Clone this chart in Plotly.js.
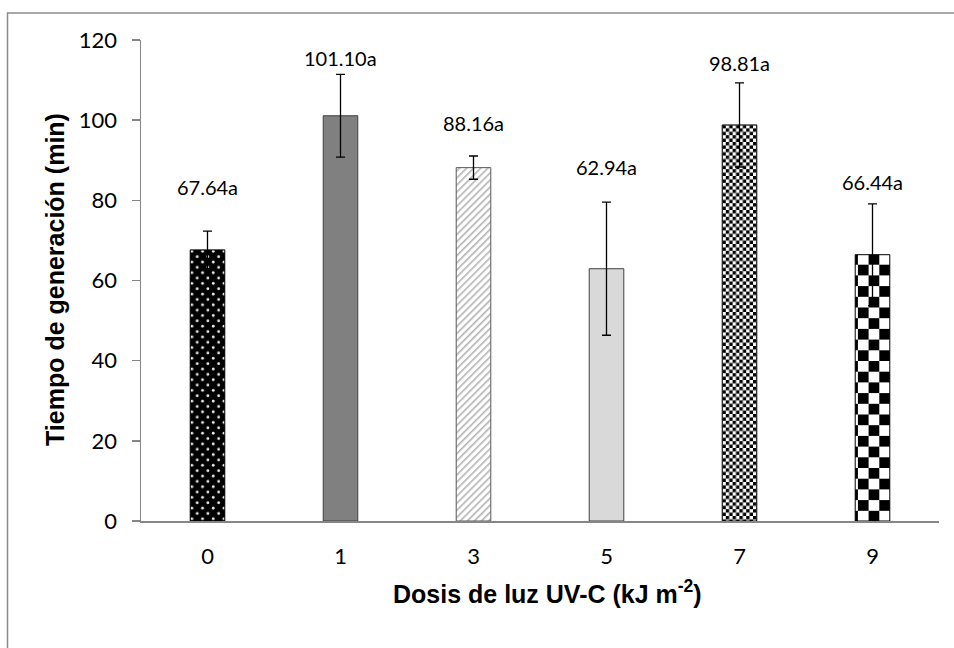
<!DOCTYPE html>
<html>
<head>
<meta charset="utf-8">
<script src="https://cdn.plot.ly/plotly-3.0.1.min.js"></script>
<style>
  html, body { margin: 0; padding: 0; background: #ffffff; }
  #chart { width: 954px; height: 648px; }
</style>
</head>
<body>
<div id="chart"></div>
<script>
// ---- data ----
const categories = ['0', '1', '3', '5', '7', '9'];
const values = [67.64, 101.10, 88.16, 62.94, 98.81, 66.44];
const errors = [4.7, 10.3, 2.9, 16.6, 10.5, 12.7];
const labels = ['67.64a', '101.10a', '88.16a', '62.94a', '98.81a', '66.44a'];
const labelY = [83.3, 115.5, 99.3, 88.3, 114.3, 84.6];
const yTicks = [0, 20, 40, 60, 80, 100, 120];
const xTitle = 'Dosis de luz UV-C (kJ m<sup>-2</sup>)';
const yTitle = 'Tiempo de generación (min)';

// ---- styles ----
const barColors = ['#000000', '#808080', '#ffffff', '#d9d9d9', '#ffffff', '#ffffff'];
const lineColors = ['#000000', '#404040', '#595959', '#404040', '#000000', '#000000'];
const customFill = ['url(#dotsPat)', null, 'url(#hatchPat)', null, 'url(#chkSmall)', 'url(#chkBig)'];
const titleFont = { family: '"Liberation Sans", Arial, sans-serif', color: '#000000', weight: 'bold' };

const trace = {
  type: 'bar',
  x: categories,
  y: values,
  width: 0.26,
  marker: {
    color: barColors,
    line: { color: lineColors, width: 1 }
  },
  error_y: {
    type: 'data',
    array: errors,
    visible: true,
    color: '#000000',
    thickness: 1.3,
    width: 4.5
  },
  hoverinfo: 'none'
};

const annotations = categories.map((c, i) => ({
  x: i, y: labelY[i], xref: 'x', yref: 'y',
  text: labels[i], showarrow: false,
  xanchor: 'center', yanchor: 'middle',
  font: { family: 'Lato, "Open Sans", sans-serif', size: 20, color: '#000000' }
}));
annotations.push({
  text: xTitle, xref: 'paper', yref: 'paper',
  x: (547 - 141) / 798, y: (521 - 592) / 481,
  xanchor: 'center', yanchor: 'middle', showarrow: false,
  font: Object.assign({ size: 25 }, titleFont)
});
annotations.push({
  text: yTitle, xref: 'paper', yref: 'paper',
  x: (55 - 141) / 798, y: (521 - 280) / 481,
  xanchor: 'center', yanchor: 'middle', showarrow: false, textangle: -90,
  font: Object.assign({ size: 25 }, titleFont)
});

const layout = {
  width: 954, height: 648,
  margin: { l: 141, r: 15, t: 40, b: 127 },
  paper_bgcolor: '#ffffff',
  plot_bgcolor: '#ffffff',
  showlegend: false,
  font: { family: 'Lato, "Open Sans", sans-serif', size: 22, color: '#000000' },
  xaxis: {
    type: 'category',
    categoryorder: 'array',
    categoryarray: categories,
    range: [-0.5, 5.5],
    showgrid: false,
    zeroline: false,
    showline: true,
    linecolor: '#868686',
    linewidth: 1.5,
    ticks: '',
    ticklabelstandoff: 15,
    tickfont: { family: 'Lato, "Open Sans", sans-serif', size: 22, color: '#000000' }
  },
  yaxis: {
    range: [0, 120],
    tickvals: yTicks,
    ticktext: yTicks.map(String),
    showgrid: false,
    zeroline: false,
    showline: true,
    linecolor: '#868686',
    linewidth: 1.5,
    ticks: 'outside',
    ticklen: 8,
    tickcolor: '#868686',
    tickwidth: 1.5,
    ticklabelstandoff: 10,
    tickfont: { family: 'Lato, "Open Sans", sans-serif', size: 22, color: '#000000' }
  },
  annotations: annotations,
  shapes: [{
    type: 'rect', xref: 'paper', yref: 'paper',
    x0: -0.1673, x1: 1.2, y0: -0.6, y1: 1.056,
    line: { color: '#8c8c8c', width: 1.5 },
    fillcolor: 'rgba(0,0,0,0)',
    layer: 'below'
  }]
};

const gd = document.getElementById('chart');

function addDefs() {
  const svg = gd.querySelector('svg.main-svg');
  if (!svg) return;
  if (!svg.querySelector('#customPatDefs')) {
    const ns = 'http://www.w3.org/2000/svg';
    const defs = document.createElementNS(ns, 'defs');
    defs.setAttribute('id', 'customPatDefs');
    defs.innerHTML =
      '<pattern id="dotsPat" patternUnits="userSpaceOnUse" width="10.7" height="10.7">' +
        '<rect width="10.7" height="10.7" fill="#000"/>' +
        '<circle cx="2.7" cy="2.7" r="1.4" fill="#ececec"/>' +
        '<circle cx="8.05" cy="8.05" r="1.4" fill="#ececec"/>' +
      '</pattern>' +
      '<pattern id="hatchPat" patternUnits="userSpaceOnUse" width="5" height="5" patternTransform="rotate(45)">' +
        '<rect width="5" height="5" fill="#fff"/>' +
        '<rect x="0" y="0" width="1.6" height="5" fill="#b3b3b3"/>' +
      '</pattern>' +
      '<pattern id="chkSmall" patternUnits="userSpaceOnUse" width="6.8" height="6.8">' +
        '<rect width="6.8" height="6.8" fill="#fff"/>' +
        '<rect x="0" y="0" width="3.4" height="3.4" fill="#000"/>' +
        '<rect x="3.4" y="3.4" width="3.4" height="3.4" fill="#000"/>' +
      '</pattern>' +
      '<pattern id="chkBig" patternUnits="userSpaceOnUse" width="21.4" height="21.4">' +
        '<rect width="21.4" height="21.4" fill="#fff"/>' +
        '<rect x="0" y="0" width="10.7" height="10.7" fill="#000"/>' +
        '<rect x="10.7" y="10.7" width="10.7" height="10.7" fill="#000"/>' +
      '</pattern>';
    svg.insertBefore(defs, svg.firstChild);
  }
  const paths = gd.querySelectorAll('.barlayer .trace .point path');
  paths.forEach((p, i) => {
    if (customFill[i]) { p.style.fill = customFill[i]; p.style.fillOpacity = 1; }
  });
}

Plotly.newPlot(gd, [trace], layout, { staticPlot: true, displayModeBar: false }).then(() => {
  addDefs();
  gd.on('plotly_afterplot', addDefs);
});
</script>
</body>
</html>
